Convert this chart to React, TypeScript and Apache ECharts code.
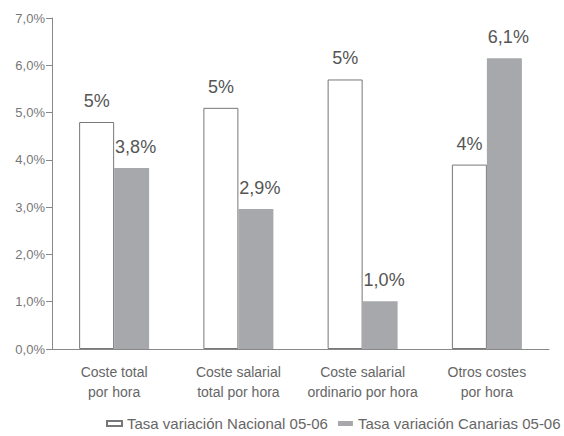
import React, { useEffect, useRef } from "react";
import * as echarts from "echarts";

const categories = [
  "Coste total\npor hora",
  "Coste salarial\ntotal por hora",
  "Coste salarial\nordinario por hora",
  "Otros costes\npor hora",
];
const nacionalValues = [4.8, 5.1, 5.7, 3.9];
const canariasValues = [3.83, 2.96, 1.01, 6.15];
const nacionalLabels = ["5%", "5%", "5%", "4%"];
const canariasLabels = ["3,8%", "2,9%", "1,0%", "6,1%"];
const seriesNames = ["Tasa variación Nacional 05-06", "Tasa variación Canarias 05-06"];

const FONT = "'Liberation Sans', Arial, Helvetica, sans-serif";

export default function App() {
  const ref = useRef<HTMLDivElement>(null);
  useEffect(() => {
    if (!ref.current) return;
    const chart = echarts.init(ref.current, undefined, { renderer: "svg" });
    chart.setOption({
      animation: false,
      backgroundColor: "#ffffff",
      textStyle: { fontFamily: FONT },
      grid: { left: 52, right: 15, top: 18, bottom: 87 },
      legend: {
        left: 106,
        top: 416,
        padding: 0,
        itemWidth: 15,
        itemHeight: 5,
        itemGap: 10,
        icon: "rect",
        textStyle: { fontFamily: FONT, fontSize: 15, color: "#666" },
        data: seriesNames,
      },
      xAxis: {
        type: "category",
        data: categories,
        axisLine: { lineStyle: { color: "#888", width: 1 } },
        axisTick: { length: 8, lineStyle: { color: "#888" } },
        axisLabel: {
          color: "#666",
          fontSize: 14,
          fontFamily: FONT,
          lineHeight: 20,
          margin: 13,
          interval: 0,
        },
      },
      yAxis: {
        type: "value",
        min: 0,
        max: 7,
        interval: 1,
        splitLine: { show: false },
        axisLine: { show: true, lineStyle: { color: "#888", width: 1 } },
        axisTick: { show: true, length: 6, lineStyle: { color: "#888" } },
        axisLabel: {
          color: "#777",
          fontSize: 13,
          fontFamily: FONT,
          margin: 7,
          formatter: (v: number) => v.toFixed(1).replace(".", ",") + "%",
        },
      },
      series: [
        {
          name: seriesNames[0],
          type: "bar",
          data: nacionalValues,
          barWidth: 35,
          barGap: "0%",
          itemStyle: { color: "#ffffff", borderColor: "#777", borderWidth: 1 },
          label: {
            show: true,
            position: "top",
            distance: 12,
            color: "#555",
            fontSize: 18,
            fontFamily: FONT,
            formatter: (p: any) => nacionalLabels[p.dataIndex],
          },
        },
        {
          name: seriesNames[1],
          type: "bar",
          data: canariasValues,
          barWidth: 35,
          barGap: "0%",
          itemStyle: { color: "#a7a8ab" },
          label: {
            show: true,
            position: "top",
            distance: 12,
            offset: [4, 0],
            color: "#555",
            fontSize: 18,
            fontFamily: FONT,
            formatter: (p: any) => canariasLabels[p.dataIndex],
          },
        },
      ],
    });
    return () => chart.dispose();
  }, []);
  return <div ref={ref} style={{ width: 564, height: 436, position: "absolute", left: 0, top: 0 }} />;
}
